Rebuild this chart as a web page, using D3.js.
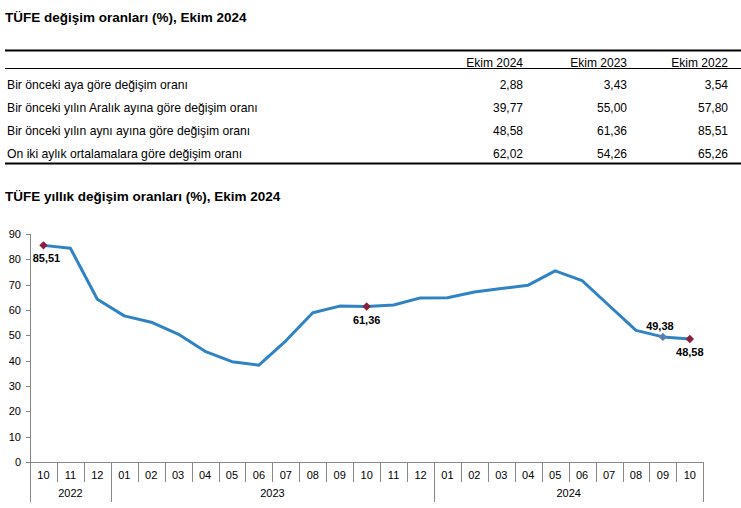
<!DOCTYPE html>
<html><head><meta charset="utf-8">
<script src="https://cdn.jsdelivr.net/npm/d3@7"></script>
<style>
body{margin:0;background:#fff;}
svg{display:block;font-family:"Liberation Sans",Arial,sans-serif;}
</style></head>
<body><svg id="c" width="741" height="508"></svg>
<script>
const tableTitle = "TÜFE değişim oranları (%), Ekim 2024";
const chartTitle = "TÜFE yıllık değişim oranları (%), Ekim 2024";
const tableColumns = ["Ekim 2024","Ekim 2023","Ekim 2022"];
const tableRowLabels = ["Bir önceki aya göre değişim oranı","Bir önceki yılın Aralık ayına göre değişim oranı","Bir önceki yılın aynı ayına göre değişim oranı","On iki aylık ortalamalara göre değişim oranı"];
const tableValues = [["2,88","3,43","3,54"],["39,77","55,00","57,80"],["48,58","61,36","85,51"],["62,02","54,26","65,26"]];
const months = ["10","11","12","01","02","03","04","05","06","07","08","09","10","11","12","01","02","03","04","05","06","07","08","09","10"];
const years = [{label:"2022",from:0,to:2},{label:"2023",from:3,to:14},{label:"2024",from:15,to:24}];
const values = [85.51,84.39,64.27,57.68,55.18,50.51,43.68,39.59,38.21,47.83,58.94,61.53,61.36,61.98,64.77,64.86,67.07,68.50,69.80,75.45,71.60,61.78,51.97,49.38,48.58];
const labeled = [{i:0,text:"85,51",pos:"below",dx:3,color:"#8b1e3f"},{i:12,text:"61,36",pos:"below",dx:0,color:"#8b1e3f"},{i:23,text:"49,38",pos:"above",dx:-3,color:"#5b7fae"},{i:24,text:"48,58",pos:"below",dx:0,color:"#8b1e3f"}];
const yTicks = [0,10,20,30,40,50,60,70,80,90];

const svg = d3.select("#c");
// Table
svg.append("text").attr("x",5).attr("y",22).attr("font-size",13.5).attr("font-weight","bold").text(tableTitle);
svg.append("line").attr("x1",5).attr("x2",741).attr("y1",50.5).attr("y2",50.5).attr("stroke","#000").attr("stroke-width",2);
svg.append("line").attr("x1",5).attr("x2",741).attr("y1",68.5).attr("y2",68.5).attr("stroke","#000").attr("stroke-width",1);
svg.append("line").attr("x1",5).attr("x2",741).attr("y1",163.5).attr("y2",163.5).attr("stroke","#000").attr("stroke-width",2);
const colRight=[523,627,728];
tableColumns.forEach((c,j)=>svg.append("text").attr("x",colRight[j]).attr("y",67).attr("text-anchor","end").attr("font-size",12).text(c));
const rowY=[89,112,135,158];
tableRowLabels.forEach((r,i)=>{
  svg.append("text").attr("x",7).attr("y",rowY[i]).attr("font-size",12.2).text(r);
  tableValues[i].forEach((v,j)=>svg.append("text").attr("x",colRight[j]).attr("y",rowY[i]).attr("text-anchor","end").attr("font-size",12).text(v));
});
// Chart
svg.append("text").attr("x",5).attr("y",201).attr("font-size",13.5).attr("font-weight","bold").text(chartTitle);
const x = d3.scaleBand().domain(d3.range(months.length)).range([30,703.3]);
const y = d3.scaleLinear().domain([0,90]).range([462,234]);
const gy = svg.append("g");
gy.append("line").attr("x1",30.5).attr("x2",30.5).attr("y1",y(90)).attr("y2",502).attr("stroke","#888");
yTicks.forEach(t=>{
  gy.append("line").attr("x1",26).attr("x2",30.5).attr("y1",Math.round(y(t))+0.5).attr("y2",Math.round(y(t))+0.5).attr("stroke","#888");
  gy.append("text").attr("x",21).attr("y",y(t)+4).attr("text-anchor","end").attr("font-size",11).attr("fill","#000").text(t);
});
// x axis
svg.append("line").attr("x1",30).attr("x2",703.3).attr("y1",462.5).attr("y2",462.5).attr("stroke","#888");
months.forEach((m,i)=>{
  const xe = Math.round(x(i)+x.bandwidth())+0.5;
  const isYearEnd = years.some(yy=>yy.to===i);
  svg.append("line").attr("x1",xe).attr("x2",xe).attr("y1",462).attr("y2",isYearEnd?502:482).attr("stroke","#888");
  svg.append("text").attr("x",x(i)+x.bandwidth()/2).attr("y",479).attr("text-anchor","middle").attr("font-size",11).text(m);
});
years.forEach(yy=>{
  const cx=(x(yy.from)+x(yy.to)+x.bandwidth())/2;
  svg.append("text").attr("x",cx).attr("y",497).attr("text-anchor","middle").attr("font-size",11).text(yy.label);
});
const line = d3.line().x((d,i)=>x(i)+x.bandwidth()/2).y(d=>y(d));
svg.append("path").datum(values).attr("d",line).attr("fill","none").attr("stroke","#2f83c4").attr("stroke-width",3).attr("stroke-linejoin","round");
labeled.forEach(l=>{
  const cx=x(l.i)+x.bandwidth()/2, cy=y(values[l.i]);
  svg.append("path").attr("d",d3.symbol(d3.symbolDiamond2,45)()).attr("transform",`translate(${cx},${cy})`).attr("fill",l.color);
  svg.append("text").attr("x",cx+l.dx).attr("y",l.pos==="below"?cy+17:cy-7).attr("text-anchor","middle").attr("font-size",11).attr("font-weight","bold").text(l.text);
});
</script></body></html>
